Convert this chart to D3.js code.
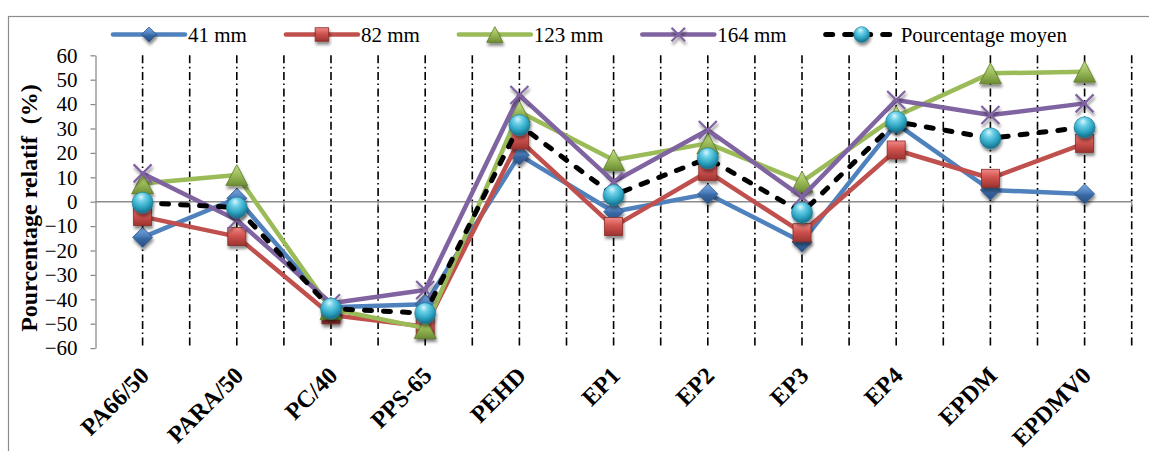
<!DOCTYPE html>
<html>
<head>
<meta charset="utf-8">
<script src="https://cdn.jsdelivr.net/npm/d3@7"></script>
<style>
  html, body { margin: 0; padding: 0; background: #fff; }
  svg { display: block; }
  text { font-family: "Liberation Serif", "Times New Roman", serif; fill: #000; }
</style>
</head>
<body>
<svg id="chart" width="1149" height="451"></svg>
<script>
// ---------- DATA ----------
const categories = ["PA66/50", "PARA/50", "PC/40", "PPS-65", "PEHD", "EP1", "EP2", "EP3", "EP4", "EPDM", "EPDMV0"];
const s41  = [-14.6,   1.4, -43.3, -42.0, 19.1,  -4.1,  3.2, -16.5, 32.0,  4.8,  3.2];
const s82  = [ -6.1, -14.3, -46.4, -51.2, 25.3, -10.2, 12.3, -12.7, 21.2,  9.6, 23.9];
const s123 = [  7.5,  10.9, -44.0, -51.8, 36.9,  17.1, 23.9,   8.2, 35.0, 52.6, 53.3];
const s164 = [ 11.6,  -7.5, -41.6, -36.2, 43.7,   8.2, 29.4,   2.0, 41.7, 35.5, 40.3];
const sMean = [ -0.4,  -2.4, -43.8, -45.7, 31.4,   2.7, 17.8,  -4.5, 32.8, 26.0, 30.5];
const seriesNames = ["41 mm", "82 mm", "123 mm", "164 mm", "Pourcentage moyen"];
const yTickValues = [-60, -50, -40, -30, -20, -10, 0, 10, 20, 30, 40, 50, 60];
const yTitle = "Pourcentage relatif  (%)";

// ---------- SETUP ----------
const svg = d3.select("#chart");
const defs = svg.append("defs");

const shadow = defs.append("filter").attr("id", "shadow")
  .attr("x", "-50%").attr("y", "-50%").attr("width", "200%").attr("height", "200%");
shadow.append("feDropShadow").attr("dx", 1).attr("dy", 3).attr("stdDeviation", 1.8)
  .attr("flood-color", "#000").attr("flood-opacity", 0.45);

function linGrad(id, stops) {
  const g = defs.append("linearGradient").attr("id", id)
    .attr("x1", "0").attr("y1", "0").attr("x2", "0").attr("y2", "1");
  stops.forEach(s => g.append("stop").attr("offset", s[0]).attr("stop-color", s[1]));
}
linGrad("gBlue",  [["0%", "#7fabe2"], ["45%", "#4a7cbb"], ["55%", "#3a69a3"], ["100%", "#264c82"]]);
linGrad("gRed",   [["0%", "#f08a86"], ["45%", "#d0524e"], ["100%", "#9b3330"]]);
linGrad("gGreen", [["0%", "#c4de86"], ["50%", "#9bbb59"], ["100%", "#6d8c34"]]);
const rg = defs.append("radialGradient").attr("id", "gCyan")
  .attr("cx", "45%").attr("cy", "30%").attr("r", "65%").attr("fx", "42%").attr("fy", "22%");
[["0%", "#d8f6fd"], ["30%", "#6fd1e8"], ["70%", "#2ea6c4"], ["100%", "#1a7590"]]
  .forEach(s => rg.append("stop").attr("offset", s[0]).attr("stop-color", s[1]));

// outer frame
svg.append("rect").attr("x", 8.5).attr("y", 16.5).attr("width", 1300).attr("height", 600)
  .attr("fill", "none").attr("stroke", "#8c8c8c").attr("stroke-width", 1.2);

// ---------- SCALES ----------
const x = d3.scaleBand().domain(categories).range([95.5, 1131.7]).padding(0);
const bw = x.bandwidth();
const cx = c => x(c) + bw / 2;
const y = d3.scaleLinear().domain([-60, 60]).range([348.1, 55.3]);

// ---------- GRID (dash-dot verticals at centres and boundaries) ----------
const gridXs = [];
categories.forEach(c => {
  gridXs.push(cx(c));
  gridXs.push(x(c) + bw);
});
svg.append("g").selectAll("line").data(gridXs).join("line")
  .attr("x1", d => d).attr("x2", d => d)
  .attr("y1", y(60)).attr("y2", y(-60))
  .attr("stroke", "#000").attr("stroke-width", 1.6)
  .attr("stroke-dasharray", "8,3.5,1.6,3.5");

// ---------- Y AXIS ----------
const yAxis = svg.append("g").attr("transform", "translate(95.5,0)")
  .call(d3.axisLeft(y).tickValues(yTickValues).tickSize(5).tickSizeOuter(0).tickPadding(13)
    .tickFormat(d3.format("d")));
yAxis.select(".domain").attr("stroke", "#8c8c8c").attr("stroke-width", 1.3);
yAxis.selectAll(".tick line").attr("stroke", "#8c8c8c").attr("stroke-width", 1.3);
yAxis.selectAll(".tick text").attr("font-size", 21)
  .attr("font-family", "Liberation Serif, serif").attr("fill", "#000");

// zero line (category axis) with ticks at boundaries
const xAxis = svg.append("g").attr("transform", `translate(0,${y(0)})`);
xAxis.append("line").attr("x1", 95.5).attr("x2", 1131.7).attr("y1", 0).attr("y2", 0)
  .attr("stroke", "#8c8c8c").attr("stroke-width", 1.5);
xAxis.selectAll("line.tk").data(categories).join("line").attr("class", "tk")
  .attr("x1", d => x(d) + bw).attr("x2", d => x(d) + bw).attr("y1", 0).attr("y2", 5)
  .attr("stroke", "#8c8c8c").attr("stroke-width", 1.3);

// category labels (rotated)
svg.append("g").selectAll("text").data(categories).join("text")
  .attr("transform", d => `translate(${cx(d) + 8},377) rotate(-45)`)
  .attr("text-anchor", "end")
  .attr("font-weight", "bold").attr("font-size", 24)
  .text(d => d);

// y title
svg.append("text")
  .attr("transform", "translate(37,208) rotate(-90)")
  .attr("text-anchor", "middle").attr("font-weight", "bold").attr("font-size", 24)
  .style("white-space", "pre")
  .text(yTitle);

// ---------- MARKERS ----------
function drawMarker(g, type, px, py, scale) {
  const s = scale || 1;
  if (type === "diamond") {
    const h = 10 * s;
    g.append("path").attr("d", `M${px},${py - h}L${px + h},${py}L${px},${py + h}L${px - h},${py}Z`)
      .attr("fill", "url(#gBlue)").attr("stroke", "#2f5a8e").attr("stroke-width", 0.8);
  } else if (type === "square") {
    const h = 9 * s;
    g.append("rect").attr("x", px - h).attr("y", py - h).attr("width", 2 * h).attr("height", 2 * h)
      .attr("fill", "url(#gRed)").attr("stroke", "#8a2d2a").attr("stroke-width", 0.8);
  } else if (type === "triangle") {
    const w = 11 * s, hh = 10.5 * s;
    g.append("path").attr("d", `M${px},${py - hh}L${px + w},${py + hh}L${px - w},${py + hh}Z`)
      .attr("fill", "url(#gGreen)").attr("stroke", "#5f7b2c").attr("stroke-width", 0.8);
  } else if (type === "x") {
    const h = 9 * s;
    g.append("path").attr("d", `M${px - h},${py - h}L${px + h},${py + h}M${px - h},${py + h}L${px + h},${py - h}`)
      .attr("stroke", "#8064a2").attr("stroke-width", 2.2).attr("fill", "none");
  } else if (type === "circle") {
    g.append("circle").attr("cx", px).attr("cy", py).attr("r", 10.5 * s)
      .attr("fill", "url(#gCyan)").attr("stroke", "#1c7a93").attr("stroke-width", 0.6);
  }
}

const series = [
  { name: seriesNames[0], values: s41,  color: "#4f81bd", marker: "diamond", dash: null },
  { name: seriesNames[1], values: s82,  color: "#c0504d", marker: "square",  dash: null },
  { name: seriesNames[2], values: s123, color: "#9bbb59", marker: "triangle", dash: null },
  { name: seriesNames[3], values: s164, color: "#8064a2", marker: "x",       dash: null },
  { name: seriesNames[4], values: sMean, color: "#000000", marker: "circle", dash: "7,12" }
];

const line = d3.line().x(d => cx(d.c)).y(d => y(d.v));

series.forEach(s => {
  const pts = categories.map((c, i) => ({ c, v: s.values[i] }));
  const g = svg.append("g");
  g.append("path").datum(pts).attr("d", line)
    .attr("fill", "none").attr("stroke", s.color).attr("stroke-width", s.dash ? 5 : 4.5)
    .attr("stroke-linejoin", "round").attr("stroke-linecap", "round")
    .attr("stroke-dasharray", s.dash);
  const mg = g.append("g").attr("filter", "url(#shadow)");
  pts.forEach(p => drawMarker(mg, s.marker, cx(p.c), y(p.v), 1));
});

// ---------- LEGEND ----------
const legend = svg.append("g");
let lx = 113;
const ly = 34.5;
series.forEach(s => {
  const g = legend.append("g");
  g.append("line").attr("x1", lx).attr("x2", lx + 72).attr("y1", ly).attr("y2", ly)
    .attr("stroke", s.color).attr("stroke-width", s.dash ? 5 : 4.5)
    .attr("stroke-linecap", "round").attr("stroke-dasharray", s.dash);
  const mg = g.append("g").attr("filter", "url(#shadow)");
  drawMarker(mg, s.marker, lx + 36, ly, 0.75);
  const t = g.append("text").attr("x", lx + 75).attr("y", ly).attr("dy", "0.35em")
    .attr("font-size", 21).text(s.name);
  lx = lx + 75 + t.node().getComputedTextLength() + 39;
});
</script>
</body>
</html>
